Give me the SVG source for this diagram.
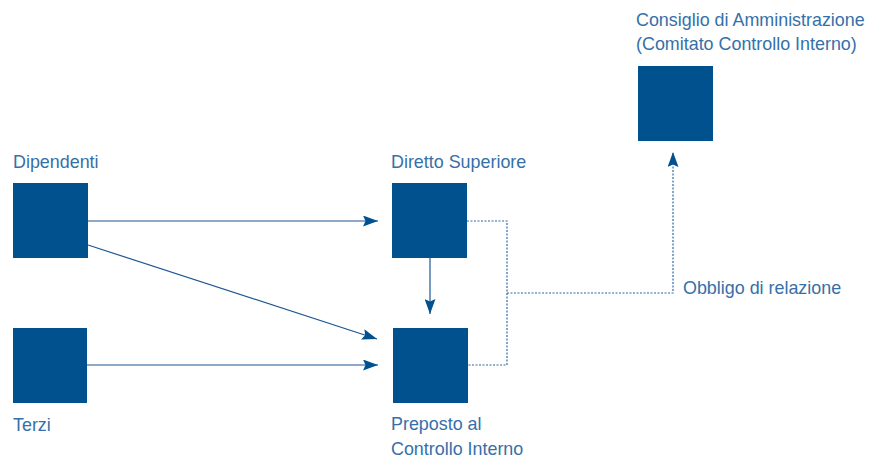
<svg xmlns="http://www.w3.org/2000/svg" width="870" height="458" viewBox="0 0 870 458">
<defs>
<style>
.box{fill:#02518f}
.lbl{font-family:"Liberation Sans",Arial,sans-serif;font-size:17.9px;fill:#3570a8}
.ln{stroke:#1d5794;stroke-width:1.2;fill:none}
.dash{stroke:#2f6aa5;stroke-width:1.2;fill:none;stroke-dasharray:2 1.5}
</style>
<marker id="ah" viewBox="0 0 15 11" refX="15" refY="5.5" markerWidth="15" markerHeight="11" markerUnits="userSpaceOnUse" orient="auto">
<path d="M0,0 L15,5.5 L0,11 L2.5,5.5 Z" fill="#02518f"/>
</marker>
</defs>
<rect width="870" height="458" fill="#ffffff"/>
<g id="connectors">
<line class="ln" x1="88" y1="221" x2="378" y2="221" marker-end="url(#ah)"/>
<line class="ln" x1="88" y1="245" x2="377" y2="339" marker-end="url(#ah)"/>
<line class="ln" x1="87" y1="365" x2="378" y2="365" marker-end="url(#ah)"/>
<line class="ln" x1="430" y1="258" x2="430" y2="314" marker-end="url(#ah)"/>
<polyline class="dash" points="467,221 507,221 507,365 468,365"/>
<polyline class="dash" points="507,293 673,293 673,153"/>
<line x1="673" y1="160" x2="673" y2="152" stroke="none" marker-end="url(#ah)"/>
</g>
<g id="dipendenti">
<rect class="box" x="13" y="183" width="75" height="75"/>
<text class="lbl" x="13" y="168">Dipendenti</text>
</g>
<g id="terzi">
<rect class="box" x="13" y="328" width="74" height="75"/>
<text class="lbl" x="13" y="431">Terzi</text>
</g>
<g id="diretto-superiore">
<rect class="box" x="392" y="183" width="75" height="75"/>
<text class="lbl" x="391" y="168">Diretto Superiore</text>
</g>
<g id="preposto">
<rect class="box" x="393" y="328" width="75" height="75"/>
<text class="lbl" x="391" y="430">Preposto al</text>
<text class="lbl" x="391" y="455">Controllo Interno</text>
</g>
<g id="consiglio">
<rect class="box" x="638" y="66" width="75" height="75"/>
<text class="lbl" x="636" y="26">Consiglio di Amministrazione</text>
<text class="lbl" x="636" y="50">(Comitato Controllo Interno)</text>
</g>
<g id="obbligo">
<text class="lbl" x="683" y="294">Obbligo di relazione</text>
</g>
</svg>
